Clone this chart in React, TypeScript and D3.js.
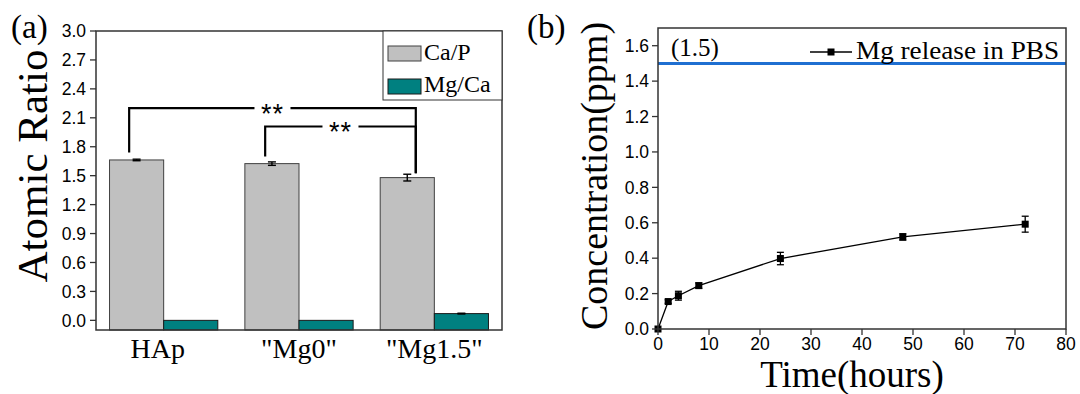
import * as d3 from "d3";

// Panel (a): atomic ratios
const categories = ["HAp", '"Mg0"', '"Mg1.5"'];
const caP = [1.663, 1.625, 1.48];
const caPErr = [0.008, 0.018, 0.035];
const mgCa = [0.0, 0.0, 0.07];
const mgCaErr = [0, 0, 0.004];
const ratioTicks = [0, 0.3, 0.6, 0.9, 1.2, 1.5, 1.8, 2.1, 2.4, 2.7, 3.0];
// significance brackets (heights in data units)
const brackets = [
  { from: 0, to: 2, y: 2.2, yFrom: 1.74, yTo: 1.525, label: "**" },
  { from: 1, to: 2, y: 2.01, yFrom: 1.7, yTo: 1.525, label: "**" },
];

// Panel (b): Mg release
const hours = [0, 2, 4, 8, 24, 48, 72];
const mgRelease = [0, 0.155, 0.188, 0.245, 0.398, 0.52, 0.592];
const mgReleaseErr = [0, 0.01, 0.025, 0.015, 0.035, 0.018, 0.045];
const timeTicks = [0, 10, 20, 30, 40, 50, 60, 70, 80];
const concTicks = [0, 0.2, 0.4, 0.6, 0.8, 1.0, 1.2, 1.4, 1.6];
const limit = 1.5;

const SERIF = "'Liberation Serif', 'Times New Roman', serif";
const SANS = "'Liberation Sans', Arial, sans-serif";
const GRAY = "#c0c0c0";
const TEAL = "#008080";
const AXIS = "#333";

export default function App() {
  // ---- panel (a) scales
  const ax = d3.scaleBand<string>().domain(categories).range([96, 502]).padding(0);
  const ay = d3.scaleLinear().domain([-0.1, 3.0]).range([330, 31]);
  const step = ax.bandwidth();
  const barW = step * 0.4;
  const center = (i: number) => (ax(categories[i]) as number) + step / 2;
  // bracket x anchor offsets (fraction of band)
  const bracketOffset = [-0.255, -0.25, -0.137];

  // ---- panel (b) scales
  const bx = d3.scaleLinear().domain([0, 80]).range([658, 1066]);
  const by = d3.scaleLinear().domain([0, 1.7]).range([329, 28]);
  const line = d3
    .line<number>()
    .x((_, i) => bx(hours[i]))
    .y((d) => by(d));

  return (
    <svg
      width={1080}
      height={394}
      style={{ position: "absolute", left: 0, top: 0, background: "#fff" }}
    >
      <rect width={1080} height={394} fill="#fff" />

      {/* ================= panel (a) ================= */}
      <text x={11} y={38} fontFamily={SERIF} fontSize={33}>
        (a)
      </text>
      <text
        transform="translate(47,166) rotate(-90)"
        textAnchor="middle"
        fontFamily={SERIF}
        fontSize={43}
      >
        Atomic Ratio
      </text>

      {/* bars */}
      {categories.map((c, i) => (
        <g key={c}>
          <rect
            x={center(i) - barW}
            y={ay(caP[i])}
            width={barW}
            height={ay(-0.1) - ay(caP[i])}
            fill={GRAY}
            stroke="#404040"
            strokeWidth={1}
          />
          <rect
            x={center(i)}
            y={ay(mgCa[i])}
            width={barW}
            height={ay(-0.1) - ay(mgCa[i])}
            fill={TEAL}
            stroke="#1a1a1a"
            strokeWidth={1}
          />
          {[
            { cx: center(i) - barW / 2, v: caP[i], e: caPErr[i] },
            { cx: center(i) + barW / 2, v: mgCa[i], e: mgCaErr[i] },
          ]
            .filter((d) => d.e > 0)
            .map((d, k) => (
              <g key={k} stroke="#000" strokeWidth={1.4}>
                <line x1={d.cx} x2={d.cx} y1={ay(d.v - d.e)} y2={ay(d.v + d.e)} />
                <line x1={d.cx - 4} x2={d.cx + 4} y1={ay(d.v - d.e)} y2={ay(d.v - d.e)} />
                <line x1={d.cx - 4} x2={d.cx + 4} y1={ay(d.v + d.e)} y2={ay(d.v + d.e)} />
              </g>
            ))}
          <text
            x={center(i) - (i === 0 ? 6 : 0)}
            y={358}
            textAnchor="middle"
            fontFamily={SERIF}
            fontSize={28}
          >
            {c}
          </text>
        </g>
      ))}

      {/* significance brackets */}
      {brackets.map((b, k) => {
        const x1 = center(b.from) + bracketOffset[b.from] * step;
        const x2 = center(b.to) + bracketOffset[b.to] * step;
        const mid = (x1 + x2) / 2;
        const gap = 18;
        return (
          <g key={k} stroke="#000" strokeWidth={2.2} fill="none">
            <polyline
              points={`${x1},${ay(b.yFrom)} ${x1},${ay(b.y)} ${mid - gap},${ay(b.y)}`}
            />
            <polyline
              points={`${mid + gap},${ay(b.y)} ${x2},${ay(b.y)} ${x2},${ay(b.yTo)}`}
            />
            <text
              x={mid}
              y={ay(b.y) + 15}
              textAnchor="middle"
              fontFamily={SANS}
              fontSize={27}
              fill="#000"
              stroke="none"
              letterSpacing={1}
            >
              {b.label}
            </text>
          </g>
        );
      })}

      {/* frame + y axis */}
      <rect x={96} y={31} width={406} height={299} fill="none" stroke={AXIS} strokeWidth={1.5} />
      {ratioTicks.map((t) => (
        <g key={t}>
          <line x1={90} x2={96} y1={ay(t)} y2={ay(t)} stroke={AXIS} strokeWidth={1.3} />
          <text
            x={86}
            y={ay(t)}
            dy="0.36em"
            textAnchor="end"
            fontFamily={SANS}
            fontSize={17.5}
          >
            {t.toFixed(1)}
          </text>
        </g>
      ))}

      {/* legend (a) */}
      <rect x={383} y={31} width={119} height={69} fill="#fff" stroke={AXIS} strokeWidth={1} />
      <rect x={388} y={46} width={33} height={15} fill={GRAY} stroke="#404040" strokeWidth={1} />
      <text x={424} y={60} fontFamily={SERIF} fontSize={24}>
        Ca/P
      </text>
      <rect x={388} y={79} width={33} height={15} fill={TEAL} stroke="#1a1a1a" strokeWidth={1} />
      <text x={424} y={92} fontFamily={SERIF} fontSize={24}>
        Mg/Ca
      </text>

      {/* ================= panel (b) ================= */}
      <text x={527} y={38} fontFamily={SERIF} fontSize={33}>
        (b)
      </text>
      <text
        transform="translate(607,176) rotate(-90)"
        textAnchor="middle"
        fontFamily={SERIF}
        fontSize={38}
      >
        Concentration(ppm)
      </text>
      <text x={852} y={387} textAnchor="middle" fontFamily={SERIF} fontSize={37}>
        Time(hours)
      </text>

      {/* limit line */}
      <line
        x1={bx(0)}
        x2={bx(80)}
        y1={by(limit)}
        y2={by(limit)}
        stroke="#1f6fd1"
        strokeWidth={3}
      />
      <text x={671} y={56} fontFamily={SERIF} fontSize={25}>
        ({limit})
      </text>

      {/* series */}
      <path d={line(mgRelease) ?? ""} fill="none" stroke="#000" strokeWidth={1.3} />
      {mgRelease.map((v, i) => {
        const cx = bx(hours[i]);
        const e = mgReleaseErr[i];
        return (
          <g key={i}>
            {e > 0 && (
              <g stroke="#000" strokeWidth={1.3}>
                <line x1={cx} x2={cx} y1={by(v - e)} y2={by(v + e)} />
                <line x1={cx - 3.5} x2={cx + 3.5} y1={by(v - e)} y2={by(v - e)} />
                <line x1={cx - 3.5} x2={cx + 3.5} y1={by(v + e)} y2={by(v + e)} />
              </g>
            )}
            <rect x={cx - 3.5} y={by(v) - 3.5} width={7} height={7} fill="#000" />
          </g>
        );
      })}

      {/* frame + axes */}
      <rect x={658} y={28} width={408} height={301} fill="none" stroke={AXIS} strokeWidth={1.5} />
      {concTicks.map((t) => (
        <g key={t}>
          <line x1={652} x2={658} y1={by(t)} y2={by(t)} stroke={AXIS} strokeWidth={1.3} />
          <text
            x={649}
            y={by(t)}
            dy="0.36em"
            textAnchor="end"
            fontFamily={SANS}
            fontSize={17.5}
          >
            {t.toFixed(1)}
          </text>
        </g>
      ))}
      {timeTicks.map((t) => (
        <g key={t}>
          <line x1={bx(t)} x2={bx(t)} y1={329} y2={335} stroke={AXIS} strokeWidth={1.3} />
          <text
            x={bx(t)}
            y={350}
            textAnchor="middle"
            fontFamily={SANS}
            fontSize={17.5}
          >
            {t}
          </text>
        </g>
      ))}

      {/* legend (b) */}
      <line x1={810} x2={852} y1={52} y2={52} stroke="#000" strokeWidth={1.3} />
      <rect x={827.5} y={48.5} width={7} height={7} fill="#000" />
      <text
        x={856}
        y={59}
        fontFamily={SERIF}
        fontSize={26}
        textLength={203}
        lengthAdjust="spacingAndGlyphs"
      >
        Mg release in PBS
      </text>
    </svg>
  );
}
